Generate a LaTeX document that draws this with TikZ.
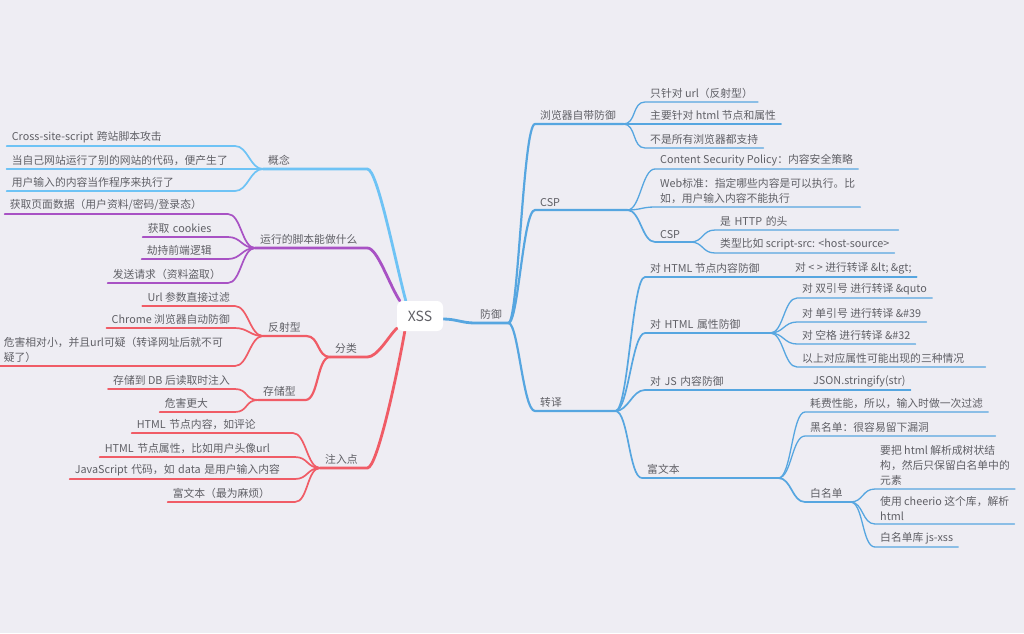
\documentclass[tikz,border=0pt]{standalone}
\usepackage{fontspec}
\setmainfont{Noto Sans CJK SC}
\usetikzlibrary{backgrounds}

\definecolor{paper}{RGB}{238,237,243}
\definecolor{ink}{RGB}{96,96,102}
\definecolor{sky}{RGB}{110,195,245}
\definecolor{plum}{RGB}{168,82,196}
\definecolor{coral}{RGB}{240,92,102}
\definecolor{ocean}{RGB}{86,166,224}

\begin{document}
\begin{tikzpicture}[x=1pt, y=1pt,
  every node/.style={text=ink, font=\fontsize{10.8}{15}\selectfont,
    inner xsep=5pt, inner ysep=3pt, align=left},
  lf/.style={anchor=south east},
  rt/.style={anchor=south west},
  sway/.style={out=0, in=180, distance=13pt},
  trunk/.style={line width=2.8pt, line cap=round},
  limb/.style={line width=2.2pt, line cap=round},
  twig/.style={line width=1.7pt, line cap=round},
  hair/.style={line width=1.3pt, line cap=round}]
  \useasboundingbox (0,0) rectangle (1024,-633);

  \node[fill=white, rounded corners=6pt, minimum width=46pt, minimum height=30pt,
    inner xsep=2pt, font=\fontsize{14}{16}\selectfont] (xss) at (420,-316) {XSS};

  % left: 概念
  \node[rt, text width=94pt] (gn) at (263,-169) {概念};
  \node[lf, text width=218pt] (gn1) at (235,-146) {Cross-site-script 跨站脚本攻击};
  \node[lf, text width=218pt] (gn2) at (235,-169) {当自己网站运行了别的网站的代码，便产生了};
  \node[lf, text width=218pt] (gn3) at (235,-191) {用户输入的内容当作程序来执行了};

  % left: 运行的脚本能做什么
  \node[rt, text width=102pt] (yx) at (255,-248) {运行的脚本能做什么};
  \node[lf, text width=213pt] (yx1) at (228,-214) {获取页面数据（用户资料/密码/登录态）};
  \node[lf, text width=75pt] (yx2) at (228,-237) {获取 cookies};
  \node[lf, text width=76pt] (yx3) at (228,-259) {劫持前端逻辑};
  \node[lf, text width=110pt] (yx4) at (228,-283) {发送请求（资料盗取）};

  % left: 分类
  \node[rt, text width=27pt] (fl) at (330,-357) {分类};
  \node[rt, text width=33pt] (fs) at (263,-336) {反射型};
  \node[lf] (fs1) at (235,-306) {Url 参数直接过滤};
  \node[lf] (fs2) at (235,-328) {Chrome 浏览器自动防御};
  \node[lf, text width=226pt] (fs3) at (235,-366) {危害相对小，并且url可疑（转译网址后就不可\\疑了）};
  \node[rt, text width=37pt] (cc) at (258,-400) {存储型};
  \node[lf] (cc1) at (235,-389) {存储到 DB 后读取时注入};
  \node[lf, text width=65pt] (cc2) at (235,-412) {危害更大};

  % left: 注入点
  \node[rt, text width=37pt] (zr) at (320,-468) {注入点};
  \node[lf, text width=151pt] (zr1) at (293,-433) {HTML 节点内容，如评论};
  \node[lf, text width=185pt] (zr2) at (295,-457) {HTML 节点属性，比如用户头像url};
  \node[lf, text width=215pt] (zr3) at (295,-479) {JavaScript 代码，如 data 是用户输入内容};
  \node[lf, text width=117pt] (zr4) at (295,-502) {富文本（最为麻烦）};

  % right: 防御
  \node[rt, text width=23pt] (fy) at (475,-323) {防御};
  \node[rt, text width=78pt] (lq) at (535,-124) {浏览器自带防御};
  \node[rt] (lq1) at (645,-102) {只针对 url（反射型）};
  \node[rt] (lq2) at (645,-124) {主要针对 html 节点和属性};
  \node[rt] (lq3) at (645,-148) {不是所有浏览器都支持};

  \node[rt, text width=82pt] (csp) at (535,-210) {CSP};
  \node[rt] (csp1) at (655,-169) {Content Security Policy：内容安全策略};
  \node[rt] (csp2) at (655,-207) {Web标准：指定哪些内容是可以执行。比\\如，用户输入内容不能执行};
  \node[rt, text width=25pt] (csp3) at (655,-242) {CSP};
  \node[rt, text width=173pt] (csp31) at (715,-230) {是 HTTP 的头};
  \node[rt] (csp32) at (715,-253) {类型比如 script-src: <host-source>};

  \node[rt, text width=70pt] (zy) at (535,-411) {转译};
  \node[rt] (zy1) at (645,-277) {对 HTML 节点内容防御};
  \node[rt] (zy11) at (790,-277) {对 < > 进行转译 \&lt; \&gt;};
  \node[rt, text width=115pt] (zy2) at (645,-333) {对 HTML 属性防御};
  \node[rt] (zy21) at (797,-298) {对 双引号 进行转译 \&quto};
  \node[rt] (zy22) at (797,-322) {对 单引号 进行转译 \&\#39};
  \node[rt] (zy23) at (797,-344) {对 空格 进行转译 \&\#32};
  \node[rt, text width=178pt] (zy24) at (797,-367) {以上对应属性可能出现的三种情况};
  \node[rt, text width=125pt] (zy3) at (645,-390) {对 JS 内容防御};
  \node[rt] (zy31) at (808,-390) {JSON.stringify(str)};
  \node[rt, text width=126pt] (zy4) at (642,-478) {富文本};
  \node[rt] (zy41) at (805,-412) {耗费性能，所以，输入时做一次过滤};
  \node[rt, text width=180pt] (zy42) at (805,-436) {黑名单：很容易留下漏洞};
  \node[rt, text width=35pt] (bm) at (805,-502) {白名单};
  \node[rt] (bm1) at (875,-489) {要把 html 解析成树状结\\构，然后只保留白名单中的\\元素};
  \node[rt] (bm2) at (875,-524) {使用 cheerio 这个库，解析\\html};
  \node[rt] (bm3) at (875,-547) {白名单库 js-xss};

  \begin{scope}[on background layer]
    \fill[paper] (0,0) rectangle (1024,-633);

    % branches into the root
    \draw[sky, trunk] (gn.south west) -- (gn.south east)
      to[out=0, in=105, out distance=10pt, in distance=40pt] ([xshift=9pt]xss.north west);
    \draw[plum, trunk] (yx.south west) -- (yx.south east)
      to[out=0, in=123, out distance=10pt, in distance=20pt] ([xshift=3pt]xss.north west);
    \draw[coral, trunk] (fl.south west) -- (fl.south east)
      to[out=0, in=225, out distance=10pt, in distance=12pt] ([yshift=3pt]xss.south west);
    \draw[coral, trunk] (zr.south west) -- (zr.south east)
      to[out=0, in=260, out distance=10pt, in distance=40pt] ([xshift=8pt]xss.south west);
    \draw[ocean, trunk] ([yshift=-3pt]xss.east) to[out=0, in=180] (fy.south west) -- (fy.south east);

    % left leaves
    \foreach \n in {gn1, gn2, gn3}
      \draw[sky, twig] (\n.south west) -- (\n.south east) to[sway] (gn.south west);
    \foreach \n in {yx1, yx2, yx3, yx4}
      \draw[plum, twig] (\n.south west) -- (\n.south east) to[sway] (yx.south west);
    \foreach \n in {fs, cc}
      \draw[coral, limb] (\n.south west) -- (\n.south east) to[sway] (fl.south west);
    \foreach \n in {fs1, fs2, fs3}
      \draw[coral, twig] (\n.south west) -- (\n.south east) to[sway] (fs.south west);
    \foreach \n in {cc1, cc2}
      \draw[coral, twig] (\n.south west) -- (\n.south east) to[sway] (cc.south west);
    \foreach \n in {zr1, zr2, zr3, zr4}
      \draw[coral, twig] (\n.south west) -- (\n.south east) to[sway] (zr.south west);

    % right leaves
    \foreach \n in {lq, csp, zy}
      \draw[ocean, limb] (fy.south east)
        to[out=0, in=180, out distance=10pt, in distance=12pt] (\n.south west) -- (\n.south east);
    \foreach \n in {lq1, lq2, lq3}
      \draw[ocean, hair] (lq.south east) to[sway] (\n.south west) -- (\n.south east);
    \foreach \n in {csp1, csp2}
      \draw[ocean, hair] (csp.south east) to[sway] (\n.south west) -- (\n.south east);
    \draw[ocean, twig] (csp.south east) to[sway] (csp3.south west) -- (csp3.south east);
    \foreach \n in {csp31, csp32}
      \draw[ocean, hair] (csp3.south east) to[sway] (\n.south west) -- (\n.south east);
    \foreach \n in {zy1, zy2, zy3, zy4}
      \draw[ocean, twig] (zy.south east) to[sway] (\n.south west) -- (\n.south east);
    \draw[ocean, hair] (zy1.south east) -- (zy11.south west) -- (zy11.south east);
    \foreach \n in {zy21, zy22, zy23, zy24}
      \draw[ocean, hair] (zy2.south east) to[sway] (\n.south west) -- (\n.south east);
    \draw[ocean, hair] (zy3.south east) -- (zy31.south west) -- (zy31.south east);
    \foreach \n in {zy41, zy42}
      \draw[ocean, hair] (zy4.south east) to[sway] (\n.south west) -- (\n.south east);
    \draw[ocean, twig] (zy4.south east) to[sway] (bm.south west) -- (bm.south east);
    \foreach \n in {bm1, bm2, bm3}
      \draw[ocean, hair] (bm.south east) to[sway] (\n.south west) -- (\n.south east);
  \end{scope}
\end{tikzpicture}
\end{document}
